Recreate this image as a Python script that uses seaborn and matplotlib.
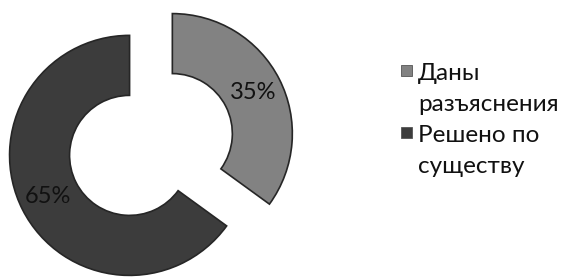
import matplotlib
matplotlib.use("Agg")
import matplotlib.pyplot as plt
from matplotlib.patches import Rectangle
import seaborn as sns

labels = ["Даны\nразъяснения", "Решено по\nсуществу"]
shares = [35, 65]
colors = ["#828282", "#3c3c3c"]

sns.set_theme(style="white")
plt.rcParams['font.family'] = ['Lato', 'DejaVu Sans']

W, H = 565, 278
fig = plt.figure(figsize=(W / 100, H / 100), dpi=100)
ax = fig.add_axes([0, 0, 300 / W, 1])

wedges, texts, autotexts = ax.pie(
    shares, labels=None, colors=colors, startangle=90, counterclock=False,
    explode=[0.2, 0.2], autopct="%d%%", pctdistance=0.76,
    wedgeprops=dict(width=0.5, edgecolor="#262626", linewidth=1.2),
    textprops=dict(fontsize=17, color="#111111"),
)
ax.set_xlim(-1.258, 1.242)
ax.set_ylim(-1.1125, 1.204)
ax.set_aspect("equal")
ax.axis("off")

# legend drawn by hand so the marker sits on the first line of each label
baselines = [80, 142]
line_step = 31
for lab, col, yb in zip(labels, colors, baselines):
    fig.patches.append(Rectangle((401 / W, 1 - (yb - 4) / H), 11 / W, 11 / H,
                                 transform=fig.transFigure, facecolor=col,
                                 edgecolor="#555555", linewidth=0.6))
    for i, line in enumerate(lab.split("\n")):
        fig.text(418 / W, 1 - (yb + i * line_step) / H, line, fontsize=17.5,
                 color="#111111", ha="left", va="baseline")

fig.savefig("out.png", dpi=100, facecolor="white")
